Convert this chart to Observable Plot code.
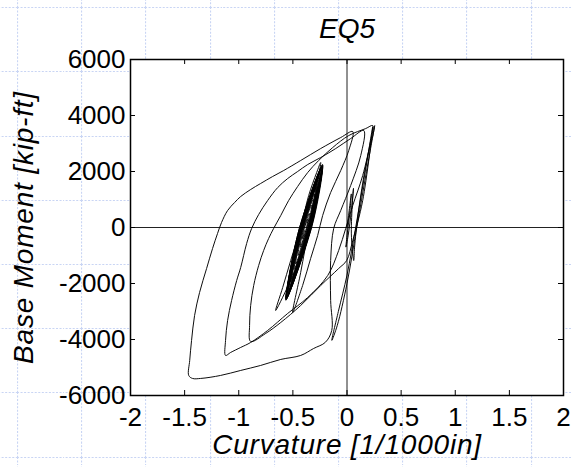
<!DOCTYPE html>
<html><head><meta charset="utf-8">
<script src="https://cdn.jsdelivr.net/npm/d3@7"></script>
<script src="https://cdn.jsdelivr.net/npm/@observablehq/plot@0.6"></script>
<style>
html,body{margin:0;padding:0;}
body{width:571px;height:467px;overflow:hidden;background-color:#fff;
background-image:url("data:image/svg+xml;utf8,<svg xmlns='http://www.w3.org/2000/svg' width='64.2' height='64.2'><path d='M0.5 0V64.2M0 0.5H64.2' stroke='%23c9d5f4' stroke-width='1.2' stroke-dasharray='2 1.5' fill='none'/></svg>");
background-size:64.2px 64.2px;background-position:17.1px 7.3px;}
#chart svg{display:block}
</style></head><body><div id="chart"></div>
<script>
// Tick values and labels
const xTicks = [-2, -1.5, -1, -0.5, 0, 0.5, 1, 1.5, 2];
const yTicks = [-6000, -4000, -2000, 0, 2000, 4000, 6000];
const titleText = "EQ5";
const xLabel = "Curvature [1/1000in]";
const yLabel = "Base Moment [kip-ft]";

// Early small cycles near the origin and first peak
const earlyCurv = [0, 0.02, 0.04, 0.03, 0.0, -0.01, 0.01, 0.04, 0.06, 0.05, 0.04, 0.05, 0.062, 0.07, 0.1, 0.15, 0.2, 0.24, 0.256];
const earlyMom  = [0, 600, 1200, 700, -300, -700, -300, 600, 1400, 900, -200, -800, -1180, -700, 400, 1700, 2700, 3300, 3640];

// Unload to cusp, reload to peak
const cycle1Curv = [0.18, 0.09, 0.0, -0.09, -0.14, -0.08, 0.0, 0.08, 0.16, 0.238];
const cycle1Mom  = [2000, 0, -2000, -3500, -4030, -3000, -1700, 0, 1800, 3600];

// Excursion to about -0.89
const cycle2Curv = [0.145, 0.053, -0.003, -0.077, -0.243, -0.428, -0.612, -0.751, -0.89,
  -0.9, -0.89, -0.862, -0.816, -0.77, -0.724, -0.678, -0.612, -0.539, -0.456, -0.363, -0.262, -0.132, 0.016, 0.173, 0.238];
const cycle2Mom  = [964, -464, -1178, -1464, -2071, -2785, -3392, -3784, -4070,
  -3499, -2785, -2071, -1357, -821, -393, -36, 428, 964, 1464, 1964, 2392, 2856, 3284, 3534, 3640];

// Excursion to about -1.12
const cycle3Curv = [0.219, 0.145, 0.053, -0.012, -0.077, -0.178, -0.363, -0.548, -0.733, -0.89, -0.982, -1.075, -1.122,
  -1.122, -1.103, -1.066, -1.019, -0.982, -0.927, -0.881, -0.816, -0.733, -0.64, -0.548, -0.456, -0.363, -0.243, -0.104, 0.034, 0.155];
const cycle3Mom  = [3106, 1856, 786, -36, -821, -1714, -2499, -3070, -3677, -4106, -4284, -4463, -4570,
  -4034, -3320, -2606, -1892, -1428, -571, -36, 464, 964, 1428, 1749, 1999, 2249, 2499, 2820, 3177, 3463];

// Largest excursion to about -1.46
const cycle4Curv = [0.127, 0.034, -0.058, -0.123, -0.151, -0.151, -0.141, -0.2, -0.308, -0.428, -0.612, -0.798, -0.982, -1.168, -1.352, -1.427, -1.462,
  -1.453, -1.436, -1.408, -1.362, -1.297, -1.242, -1.196, -1.159, -1.103, -1.038, -0.982, -0.89, -0.798, -0.687, -0.585, -0.428, -0.243, -0.058, 0.053];
const cycle4Mom  = [2570, 1500, 607, -36, -1178, -2606, -3677, -4100, -4320, -4570, -4712, -4927, -5105, -5284, -5391, -5391, -5284,
  -4748, -4034, -3142, -2321, -1464, -750, -214, 179, 607, 893, 1107, 1357, 1571, 1821, 2035, 2392, 2820, 3213, 3427];

// Unload into the residual-curvature loop
const cycle5Curv = [0.016, -0.058, -0.151, -0.225, -0.271, -0.336, -0.41, -0.502,
  -0.428, -0.354, -0.299, -0.243, -0.28, -0.354, -0.428, -0.52, -0.594, -0.659];
const cycle5Mom  = [2749, 2035, 1250, 428, -286, -1107, -2071, -3035,
  -1607, -36, 1142, 2321, 1964, 1142, 0, -1178, -2142, -2963];

// Free-vibration spindle around the residual curvature (first, wider cycles)
const spindleACurv = [-0.335, -0.227, -0.445, -0.5636, -0.34, -0.2304, -0.44, -0.5594, -0.335, -0.2346, -0.445, -0.5559,
  -0.345, -0.243, -0.435, -0.5475, -0.34, -0.25, -0.44, -0.5405, -0.35, -0.2584, -0.43, -0.5314,
  -0.345, -0.271, -0.435, -0.5195, -0.355, -0.2815, -0.425, -0.509];
const spindleAMom  = [-100, 2230, -100, -2580, -100, 2180, -100, -2520, -100, 2120, -100, -2470,
  -100, 2000, -100, -2350, -100, 1900, -100, -2250, -100, 1780, -100, -2120,
  -100, 1600, -100, -1950, -100, 1450, -100, -1800];

// Free-vibration spindle (decaying cycles)
const spindleBCurv = [-0.34, -0.2255, -0.44, -0.565, -0.34, -0.229, -0.44, -0.5615, -0.345, -0.2325, -0.435, -0.558,
  -0.345, -0.236, -0.435, -0.5545, -0.35, -0.2395, -0.43, -0.551, -0.35, -0.2465, -0.43, -0.544,
  -0.355, -0.2535, -0.425, -0.537, -0.355, -0.264, -0.425, -0.5265, -0.36, -0.2745, -0.42, -0.516,
  -0.36, -0.285, -0.42, -0.502, -0.365, -0.299, -0.415, -0.488, -0.365, -0.313, -0.415, -0.474,
  -0.37, -0.327, -0.41, -0.453, -0.375, -0.348, -0.405, -0.432, -0.38, -0.362, -0.4, -0.411, -0.39];
const spindleBMom  = [-100, 2250, -100, -2600, -100, 2200, -100, -2550, -100, 2150, -100, -2500,
  -100, 2100, -100, -2450, -100, 2050, -100, -2400, -100, 1950, -100, -2300,
  -100, 1850, -100, -2200, -100, 1700, -100, -2050, -100, 1550, -100, -1900,
  -100, 1400, -100, -1700, -100, 1200, -100, -1500, -100, 1000, -100, -1300,
  -100, 800, -100, -1000, -100, 500, -100, -700, -100, 300, -100, -400, -100];

const curv = [].concat(earlyCurv, cycle1Curv, cycle2Curv, cycle3Curv, cycle4Curv, cycle5Curv, spindleACurv, spindleBCurv);
const mom  = [].concat(earlyMom, cycle1Mom, cycle2Mom, cycle3Mom, cycle4Mom, cycle5Mom, spindleAMom, spindleBMom);
const path = curv.map((c, i) => ({c, m: mom[i]}));

const W = 571, H = 467, mL = 130, mR = 8, mT = 59, mB = 72;
const fw = W - mL - mR, fh = H - mT - mB;
const tick = 5;

const chart = Plot.plot({
  width: W, height: H,
  marginLeft: mL, marginRight: mR, marginTop: mT, marginBottom: mB,
  style: {background: "transparent", fontFamily: "'Liberation Sans', Arial, sans-serif", fontSize: "26px", color: "black"},
  x: {domain: [-2, 2]},
  y: {domain: [-6000, 6000]},
  marks: [
    Plot.frame({fill: "white", stroke: "none"}),
    Plot.ruleX([0], {stroke: "#222", strokeWidth: 1}),
    Plot.ruleY([0], {stroke: "#222", strokeWidth: 1}),
    Plot.line(path, {x: "c", y: "m", stroke: "black", strokeWidth: 0.95, curve: "catmull-rom"}),
    Plot.ruleX(xTicks, {insetTop: fh - tick, stroke: "black"}),
    Plot.ruleX(xTicks, {insetBottom: fh - tick, stroke: "black"}),
    Plot.ruleY(yTicks, {insetRight: fw - tick, stroke: "black"}),
    Plot.ruleY(yTicks, {insetLeft: fw - tick, stroke: "black"}),
    Plot.frame({stroke: "black", strokeWidth: 1.5}),
    Plot.axisX({ticks: xTicks, anchor: "bottom", tickSize: 0, tickPadding: 12, tickFormat: d => String(d), label: null}),
    Plot.axisY({ticks: yTicks, anchor: "left", tickSize: 0, tickPadding: 5, tickFormat: d => String(d), label: null}),
    Plot.text([titleText], {text: d => d, frameAnchor: "top", lineAnchor: "middle", textAnchor: "middle", dy: -30, fontSize: 28, fontStyle: "italic"}),
    Plot.text([xLabel], {text: d => d, frameAnchor: "bottom", lineAnchor: "middle", textAnchor: "middle", dy: 50, fontSize: 28, fontStyle: "italic"}),
    Plot.text([yLabel], {text: d => d, frameAnchor: "left", lineAnchor: "middle", textAnchor: "middle", dx: -106, rotate: -90, fontSize: 28, fontStyle: "italic"})
  ]
});
document.getElementById("chart").appendChild(chart);
d3.select(chart).selectAll("text").filter(function() {
  const t = this.textContent; return t === xLabel || t === yLabel;
}).style("letter-spacing", "0.8px");
</script></body></html>
